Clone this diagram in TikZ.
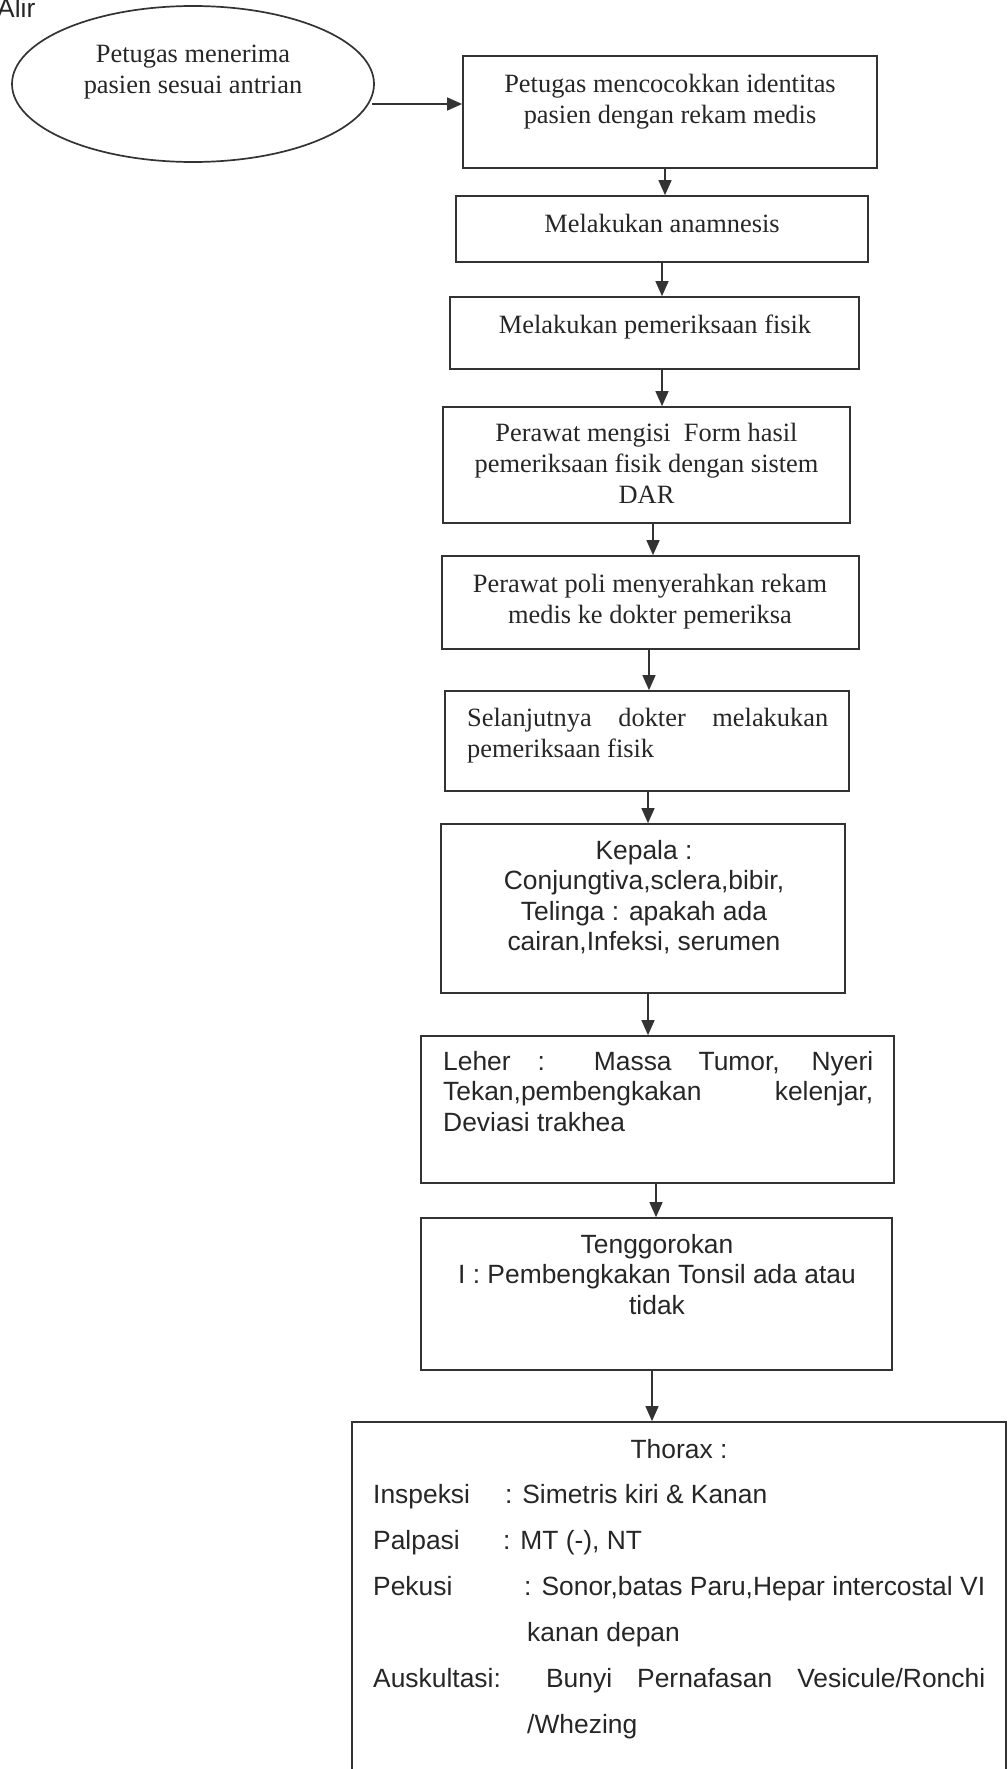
\documentclass[tikz,border=0pt]{standalone}
\usepackage{fontspec}
\setmainfont{Liberation Serif}
\newfontfamily\arialf{Liberation Sans}
\usetikzlibrary{arrows.meta,shapes.geometric}
\begin{document}
\begin{tikzpicture}[x=1pt,y=-1pt,
  box/.style={draw=black!80, line width=1.7pt, rectangle, inner sep=0pt},
  arr/.style={draw=black!80, line width=1.4pt, -{Triangle[length=15pt,width=13pt]}},
  tm/.style={font=\fontsize{26.4}{31}\selectfont, text=black!85, inner sep=0pt, align=center},
  ar/.style={font=\arialf\fontsize{26.4}{30.5}\selectfont, text=black!85, inner sep=0pt, align=center},
]
\useasboundingbox (0,0) rectangle (1007,1769);
\clip (0,0) rectangle (1007,1769);

% title fragment
\node[ar, anchor=base west] (title) at (-3,18) {Alir};

% start ellipse
\node[draw=black!80, line width=1.7pt, ellipse, minimum width=362pt, minimum height=156pt, inner sep=0pt] (start) at (193,84) {};
\node[tm, anchor=north] (starttxt) at (193,45) {Petugas menerima\\pasien sesuai antrian};

% boxes
\node[box, minimum width=414pt, minimum height=112pt] (b1) at (670,112) {};
\node[tm, anchor=north] (t1) at (670,74) {Petugas mencocokkan identitas\\pasien dengan rekam medis};

\node[box, minimum width=412pt, minimum height=66pt] (b2) at (662,229) {};
\node[tm, anchor=north] (t2) at (662,214) {Melakukan anamnesis};

\node[box, minimum width=409pt, minimum height=72pt] (b3) at (654.5,333) {};
\node[tm, anchor=north] (t3) at (655,315) {Melakukan pemeriksaan fisik};

\node[box, minimum width=407pt, minimum height=116pt] (b4) at (646.5,465) {};
\node[tm, anchor=north] (t4) at (646.5,423) {Perawat mengisi\ \ Form hasil\\pemeriksaan fisik dengan sistem\\DAR};

\node[box, minimum width=417pt, minimum height=93pt] (b5) at (650.5,602.5) {};
\node[tm, anchor=north] (t5) at (650,574) {Perawat poli menyerahkan rekam\\medis ke dokter pemeriksa};

\node[box, minimum width=404pt, minimum height=100pt] (b6) at (647,741) {};
\node[tm, align=left, anchor=north west] (t6) at (467,708) {\makebox[361pt][s]{Selanjutnya dokter melakukan}\\pemeriksaan fisik};

\node[box, minimum width=404pt, minimum height=169pt] (b7) at (643,908.5) {};
\node[ar, anchor=north] (t7) at (644,840) {Kepala :\\Conjungtiva,sclera,bibir,\\Telinga : apakah ada\\cairan,Infeksi, serumen};

\node[box, minimum width=473pt, minimum height=147pt] (b8) at (657.5,1109.5) {};
\node[ar, align=left, anchor=north west] (t8) at (443,1051) {\makebox[430pt][s]{Leher : Massa Tumor, Nyeri}\\\makebox[430pt][s]{Tekan,pembengkakan kelenjar,}\\Deviasi trakhea};

\node[box, minimum width=471pt, minimum height=152pt] (b9) at (656.5,1294) {};
\node[ar, anchor=north] (t9) at (657,1234) {Tenggorokan\\I : Pembengkakan Tonsil ada atau\\tidak};

\node[box, minimum width=654pt, minimum height=380pt] (b10) at (679,1612) {};
\node[ar, anchor=base] (th0) at (679,1458) {Thorax :};
\node[ar, anchor=base west] (th1) at (373,1503) {Inspeksi};
\node[ar, anchor=base west] (th1v) at (505,1503) {: Simetris kiri \& Kanan};
\node[ar, anchor=base west] (th2) at (373,1549) {Palpasi};
\node[ar, anchor=base west] (th2v) at (503,1549) {: MT (-), NT};
\node[ar, anchor=base west] (th3) at (373,1595) {Pekusi};
\node[ar, anchor=base west] (th3v) at (524,1595) {\makebox[461pt][s]{: Sonor,batas Paru,Hepar intercostal VI}};
\node[ar, anchor=base west] (th4) at (527,1641) {kanan depan};
\node[ar, anchor=base west] (th5) at (373,1687) {\makebox[612pt][s]{Auskultasi: Bunyi Pernafasan Vesicule/Ronchi}};
\node[ar, anchor=base west] (th6) at (527,1733) {/Whezing};

% connectors
\coordinate (a0) at (372,104);
\draw[arr] (a0) -- (a0 -| b1.west);

\coordinate (x1) at (665,0);
\coordinate (x2) at (662,0);
\coordinate (x3) at (662,0);
\coordinate (x4) at (653,0);
\coordinate (x5) at (649,0);
\coordinate (x6) at (648,0);
\coordinate (x7) at (648,0);
\coordinate (x8) at (656,0);
\coordinate (x9) at (652,0);
\draw[arr] (b1.south -| x1) -- (b2.north -| x1);
\draw[arr] (b2.south -| x2) -- (b3.north -| x2);
\draw[arr] (b3.south -| x3) -- (b4.north -| x3);
\draw[arr] (b4.south -| x4) -- (b5.north -| x4);
\draw[arr] (b5.south -| x5) -- (b6.north -| x5);
\draw[arr] (b6.south -| x6) -- (b7.north -| x6);
\draw[arr] (b7.south -| x7) -- (b8.north -| x7);
\draw[arr] (b8.south -| x8) -- (b9.north -| x8);
\draw[arr] (b9.south -| x9) -- (b10.north -| x9);
\end{tikzpicture}
\end{document}
